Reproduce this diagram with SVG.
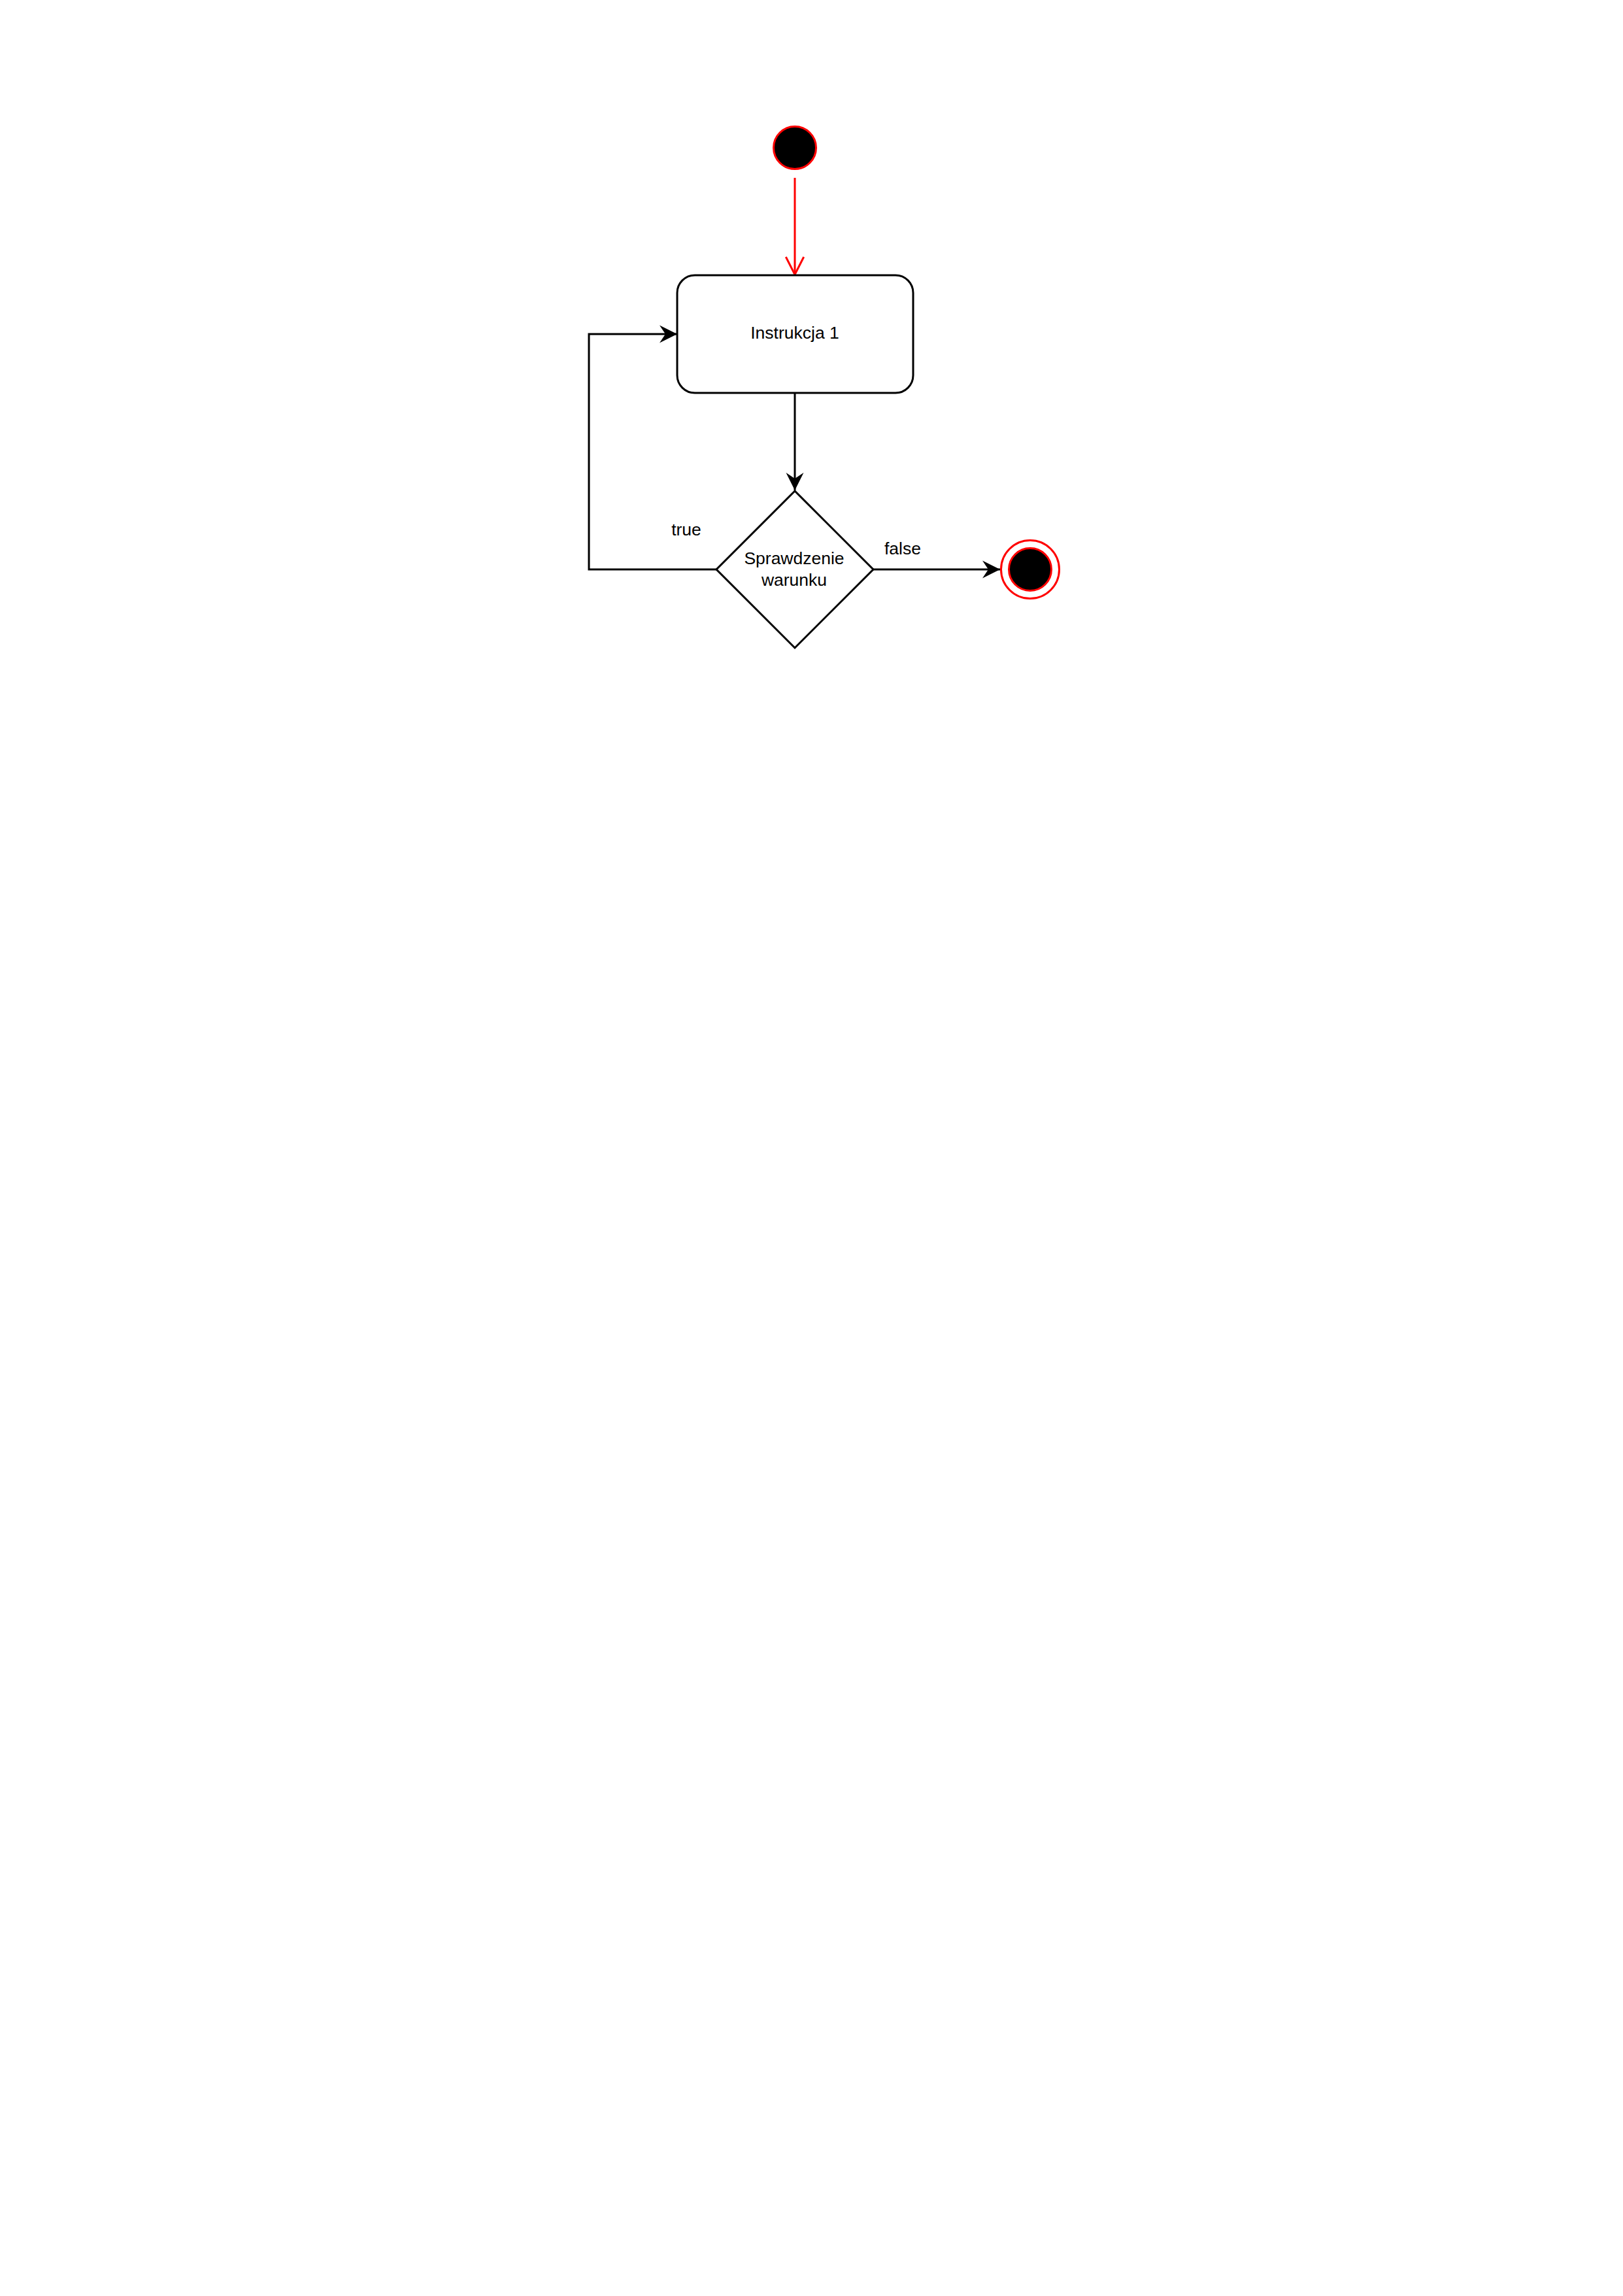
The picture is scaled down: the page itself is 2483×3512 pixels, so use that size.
<svg xmlns="http://www.w3.org/2000/svg" width="2483" height="3512" viewBox="0 0 2483 3512">
  <style>
    .edge { fill: none; stroke: #000000; stroke-width: 3; }
    .edge-red { fill: none; stroke: #FF0000; stroke-width: 3; }
    .shape { fill: #FFFFFF; stroke: #000000; stroke-width: 3; }
    .lbl { font-family: "Liberation Sans", Arial, Helvetica, sans-serif; font-size: 26.5px; fill: #000000; text-anchor: middle; }
  </style>
  <defs>
    <marker id="classic" markerUnits="userSpaceOnUse" viewBox="0 0 27 27" refX="27" refY="13.5" markerWidth="27" markerHeight="27" orient="auto" overflow="visible">
      <path d="M0,0 L27,13.5 L0,27 L9,13.5 Z" fill="#000000" stroke="none"/>
    </marker>
    <marker id="open-red" markerUnits="userSpaceOnUse" viewBox="0 0 28 28" refX="27" refY="14" markerWidth="28" markerHeight="28" orient="auto" overflow="visible">
      <path d="M0,0.3 L27,14 L0,27.7" fill="none" stroke="#FF0000" stroke-width="3"/>
    </marker>
  </defs>
  <rect width="2483" height="3512" fill="#FFFFFF"/>

  <g id="connectors">
    <path id="edge-start" class="edge-red" d="M1216,272 L1216,420" marker-end="url(#open-red)"/>
    <path id="edge-instr-check" class="edge" d="M1216,601 L1216,750" marker-end="url(#classic)"/>
    <path id="edge-true" class="edge" d="M1096,871 L901,871 L901,511 L1036,511" marker-end="url(#classic)"/>
    <path id="edge-false" class="edge" d="M1336,871 L1530,871" marker-end="url(#classic)"/>
    <text class="lbl" x="1050" y="819">true</text>
    <text class="lbl" x="1381" y="848">false</text>
  </g>

  <g id="start">
    <circle cx="1216" cy="226" r="32.5" fill="#000000" stroke="#FF0000" stroke-width="3"/>
  </g>

  <g id="instrukcja">
    <rect class="shape" x="1036" y="421" width="361" height="180" rx="27" ry="27"/>
    <text class="lbl" x="1216" y="518">Instrukcja 1</text>
  </g>

  <g id="warunek">
    <path class="shape" d="M1216,751 L1336,871 L1216,991 L1096,871 Z"/>
    <text class="lbl" x="1215" y="863">Sprawdzenie</text>
    <text class="lbl" x="1215" y="896">warunku</text>
  </g>

  <g id="end">
    <circle cx="1576" cy="871" r="44.5" fill="#FFFFFF" stroke="#FF0000" stroke-width="3"/>
    <circle cx="1576" cy="871" r="32.5" fill="#000000" stroke="#FF0000" stroke-width="3"/>
  </g>
</svg>
